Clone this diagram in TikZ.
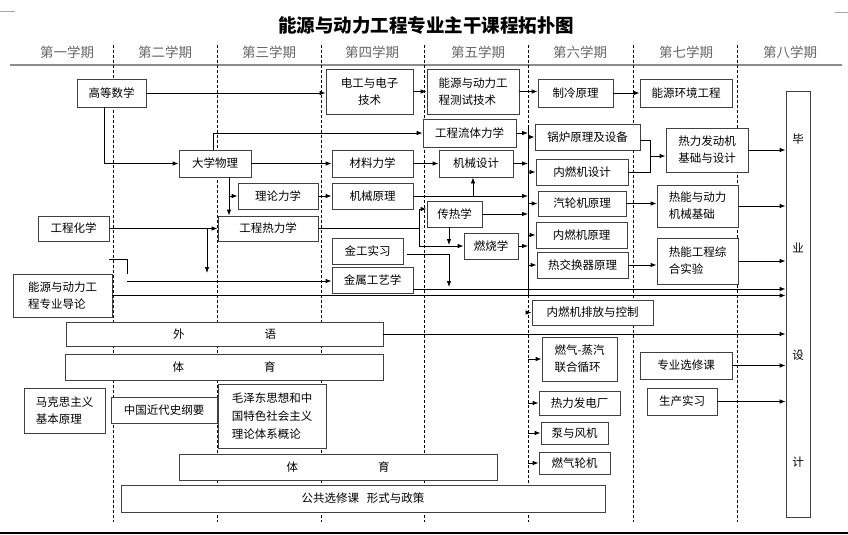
\documentclass[tikz,border=0pt]{standalone}
\usepackage{fontspec}
\setmainfont{Noto Sans CJK SC}
\usetikzlibrary{arrows.meta}
\begin{document}
\begin{tikzpicture}[x=1pt,y=-1pt,
  box/.style={draw=black!75, line width=0.8pt, fill=white, inner sep=1pt, font=\fontsize{11.5pt}{17pt}\selectfont, align=center},
  lbox/.style={box, align=left},
  conn/.style={line width=0.8pt, draw=black},
  arr/.style={conn, -{Latex[length=6pt,width=4.5pt]}},
  divider/.style={line width=0.6pt, dash pattern=on 3pt off 2pt},
  hdr/.style={font=\fontsize{13.5pt}{16pt}\selectfont, text=black!60},
  txt/.style={font=\fontsize{11.5pt}{17pt}\selectfont}]
\useasboundingbox (0,0) rectangle (848,535);
% page marks and rules
\draw[black!35, line width=0.6pt] (0,11) -- (15,11);
\draw[black!35, line width=0.6pt] (835,12) -- (848,12);
\draw[line width=2pt, black!45] (10,65) -- (842,65);
\draw[line width=1.5pt] (0,533) -- (848,533);
\foreach \x in {113,217,321,424,528,633,737} \draw[divider] (\x,45) -- (\x,522);
% title and headers
\node[font=\fontsize{18.5pt}{22pt}\selectfont\bfseries] (title) at (426,25) {能源与动力工程专业主干课程拓扑图};
\node[hdr] (s1) at (67,52) {第一学期};
\node[hdr] (s2) at (165,52) {第二学期};
\node[hdr] (s3) at (269,52) {第三学期};
\node[hdr] (s4) at (372,52) {第四学期};
\node[hdr] (s5) at (478,52) {第五学期};
\node[hdr] (s6) at (580,52) {第六学期};
\node[hdr] (s7) at (686,52) {第七学期};
\node[hdr] (s8) at (790,52) {第八学期};
% boxes
\node[box, minimum width=69pt, minimum height=28pt] (gdsx) at (111.5,93) {高等数学};
\node[box, minimum width=72pt, minimum height=27pt] (dxwl) at (215,163.5) {大学物理};
\node[box, minimum width=87pt, minimum height=45pt] (dgdz) at (369.5,91.5) {电工与电子\\技术};
\node[lbox, minimum width=92pt, minimum height=45pt] (csjs) at (473,91.5) {能源与动力工\\程测试技术};
\node[box, minimum width=75pt, minimum height=28pt] (zlyl) at (575.5,93) {制冷原理};
\node[box, minimum width=92pt, minimum height=28pt] (nyhj) at (686,93) {能源环境工程};
\node[box, minimum width=93pt, minimum height=28pt] (gclt) at (469.5,133) {工程流体力学};
\node[box, minimum width=81pt, minimum height=27pt] (clxx) at (372.5,163.5) {材料力学};
\node[box, minimum width=74pt, minimum height=27pt] (jxsj) at (476,163.5) {机械设计};
\node[box, minimum width=105pt, minimum height=26pt] (glyl) at (587.5,137) {锅炉原理及设备};
\node[box, minimum width=92pt, minimum height=26pt] (nrjsj) at (582,172) {内燃机设计};
\node[lbox, minimum width=82pt, minimum height=44pt] (rlfd) at (707,150) {热力发动机\\基础与设计};
\node[box, minimum width=24pt, minimum height=426pt] (bysj) at (798,304) {};
\node[txt] (by1) at (798,139) {毕};
\node[txt] (by2) at (798,248) {业};
\node[txt] (by3) at (798,355) {设};
\node[txt] (by4) at (798,462) {计};
\node[box, minimum width=80pt, minimum height=26pt] (llmx) at (278,196) {理论力学};
\node[box, minimum width=100pt, minimum height=25pt] (gcrl) at (268,228.5) {工程热力学};
\node[box, minimum width=71pt, minimum height=25pt] (gchx) at (73.5,228.5) {工程化学};
\node[box, minimum width=81pt, minimum height=26pt] (jxyl) at (372.5,196) {机械原理};
\node[box, minimum width=88pt, minimum height=25pt] (qljyl) at (582,203.5) {汽轮机原理};
\node[lbox, minimum width=81pt, minimum height=42pt] (rndl) at (697.5,206) {热能与动力\\机械基础};
\node[box, minimum width=55pt, minimum height=26pt] (crx) at (454.5,214) {传热学};
\node[box, minimum width=54pt, minimum height=26pt] (rsx) at (491,246) {燃烧学};
\node[box, minimum width=91pt, minimum height=26pt] (nrjyl) at (581.5,235) {内燃机原理};
\node[box, minimum width=91pt, minimum height=26pt] (rjhq) at (582.5,265) {热交换器原理};
\node[lbox, minimum width=81pt, minimum height=46pt] (rngc) at (697.5,261) {热能工程综\\合实验};
\node[box, minimum width=71pt, minimum height=26pt] (jgsx) at (367.5,251) {金工实习};
\node[box, minimum width=81pt, minimum height=26pt] (jsgy) at (372.5,280) {金属工艺学};
\node[lbox, minimum width=99pt, minimum height=43pt] (dl) at (62.5,295.5) {能源与动力工\\程专业导论};
\node[box, minimum width=317pt, minimum height=24pt] (wy) at (224.5,334) {外\hspace{80pt}语};
\node[box, minimum width=318pt, minimum height=26pt] (ty1) at (224,367) {体\hspace{80pt}育};
\node[box, minimum width=121pt, minimum height=25pt] (nrjpf) at (592.5,312.5) {内燃机排放与控制};
\node[lbox, minimum width=75pt, minimum height=44pt] (rqzq) at (579.5,359) {燃气-蒸汽\\联合循环};
\node[box, minimum width=81pt, minimum height=24pt] (rlfdc) at (579.5,403) {热力发电厂};
\node[box, minimum width=67pt, minimum height=22pt] (bfj) at (574.5,433) {泵与风机};
\node[box, minimum width=71pt, minimum height=22pt] (rqlj) at (574.5,463) {燃气轮机};
\node[box, minimum width=92pt, minimum height=27pt] (zyxx) at (686,365.5) {专业选修课};
\node[box, minimum width=70pt, minimum height=27pt] (scsx) at (682,401.5) {生产实习};
\node[lbox, minimum width=81pt, minimum height=45pt] (mks) at (64.5,410.5) {马克思主义\\基本原理};
\node[box, minimum width=106pt, minimum height=26pt] (zgjd) at (164,410) {中国近代史纲要};
\node[lbox, minimum width=108pt, minimum height=64pt, font=\fontsize{11.5pt}{18pt}\selectfont] (mzd) at (272,416) {毛泽东思想和中\\国特色社会主义\\理论体系概论};
\node[box, minimum width=318pt, minimum height=26pt] (ty2) at (338,467) {体\hspace{80pt}育};
\node[box, minimum width=484pt, minimum height=27pt] (ggxx) at (363,498.5) {公共选修课\hspace{8pt}形式与政策};
% connectors
\draw[arr] (gdsx.east) -- (gdsx.east -| dgdz.west);
\draw[arr] (dgdz.east) -- (csjs.west);
\draw[arr] (csjs.east) -- (csjs.east -| zlyl.west);
\draw[arr] (zlyl.east) -- (nyhj.west);
\coordinate (g0) at (104,107);
\draw[arr] (g0) |- (dxwl.west);
\coordinate (d0) at (213,150);
\draw[arr] (d0) |- (gclt.west);
\draw[arr] (dxwl.east) -- (clxx.west);
\draw[arr] (clxx.east) -- (jxsj.west);
\coordinate (busT) at (528,126);
\coordinate (busB) at (528,296);
\draw[conn] (busT) -- (busB);
\draw[arr] (gclt.east) -- (gclt.east -| busT);
\draw[arr] (jxsj.east) -- (jxsj.east -| busT);
\draw[arr] (jxyl.east) -- (jxyl.east -| busT);
\draw[arr] (crx.east) -- (crx.east -| busT);
\draw[arr] (rsx.east) -- (rsx.east -| busT);
\foreach \n in {glyl,nrjsj,qljyl,nrjyl,rjhq,nrjpf,rqzq,rlfdc,bfj,rqlj} \draw[arr] (\n.west -| busT) -- (\n.west);
\coordinate (j1) at (473,196);
\draw[arr] (j1) -- (j1 |- jxsj.south);
\coordinate (d1) at (229,177);
\draw[arr] (d1) -- (d1 |- gcrl.north);
\coordinate (d2) at (229,196);
\draw[arr] (d2) -- (llmx.west);
\draw[arr] (llmx.east) -- (jxyl.west);
\draw[arr] (gchx.east) -- (gcrl.west);
\coordinate (c1) at (207,228.5);
\coordinate (c2) at (207,273);
\draw[arr] (c1) -- (c2);
\coordinate (t1) at (419,228.5);
\coordinate (t2) at (419,209);
\draw[conn] (gcrl.east) -- (t1);
\draw[arr] (t1) -- (t2) -- (t2 -| crx.west);
\draw[arr] (t1) |- (rsx.west);
\coordinate (u1) at (449,227);
\coordinate (u2) at (449,245);
\draw[arr] (u1) -- (u2);
\coordinate (k0) at (407,254);
\coordinate (k1) at (449,254);
\coordinate (k2) at (449,287);
\draw[arr] (k0) -- (k1) -- (k2);
\coordinate (b0) at (109,259);
\coordinate (b1) at (127,259);
\coordinate (b2) at (127,274);
\draw[conn] (b0) -- (b1) -- (b2);
\coordinate (b3) at (127,281);
\draw[arr] (b3) -- (b3 -| jsgy.west);
\coordinate (m0) at (413,289);
\draw[arr] (m0) -- (m0 -| bysj.west);
\foreach \n in {dl,wy,rlfd,rndl,rngc,zyxx,scsx} \draw[arr] (\n.east) -- (\n.east -| bysj.west);
\draw[arr] (qljyl.east) -- (qljyl.east -| rndl.west);
\draw[arr] (rjhq.east) -- (rjhq.east -| rngc.west);
\coordinate (f1) at (650,140);
\coordinate (f2) at (650,172);
\coordinate (f3) at (650,156);
\draw[conn] (f1 -| glyl.east) -- (f1) -- (f2) -- (f2 -| nrjsj.east);
\draw[arr] (f3) -- (f3 -| rlfd.west);
\end{tikzpicture}
\end{document}
